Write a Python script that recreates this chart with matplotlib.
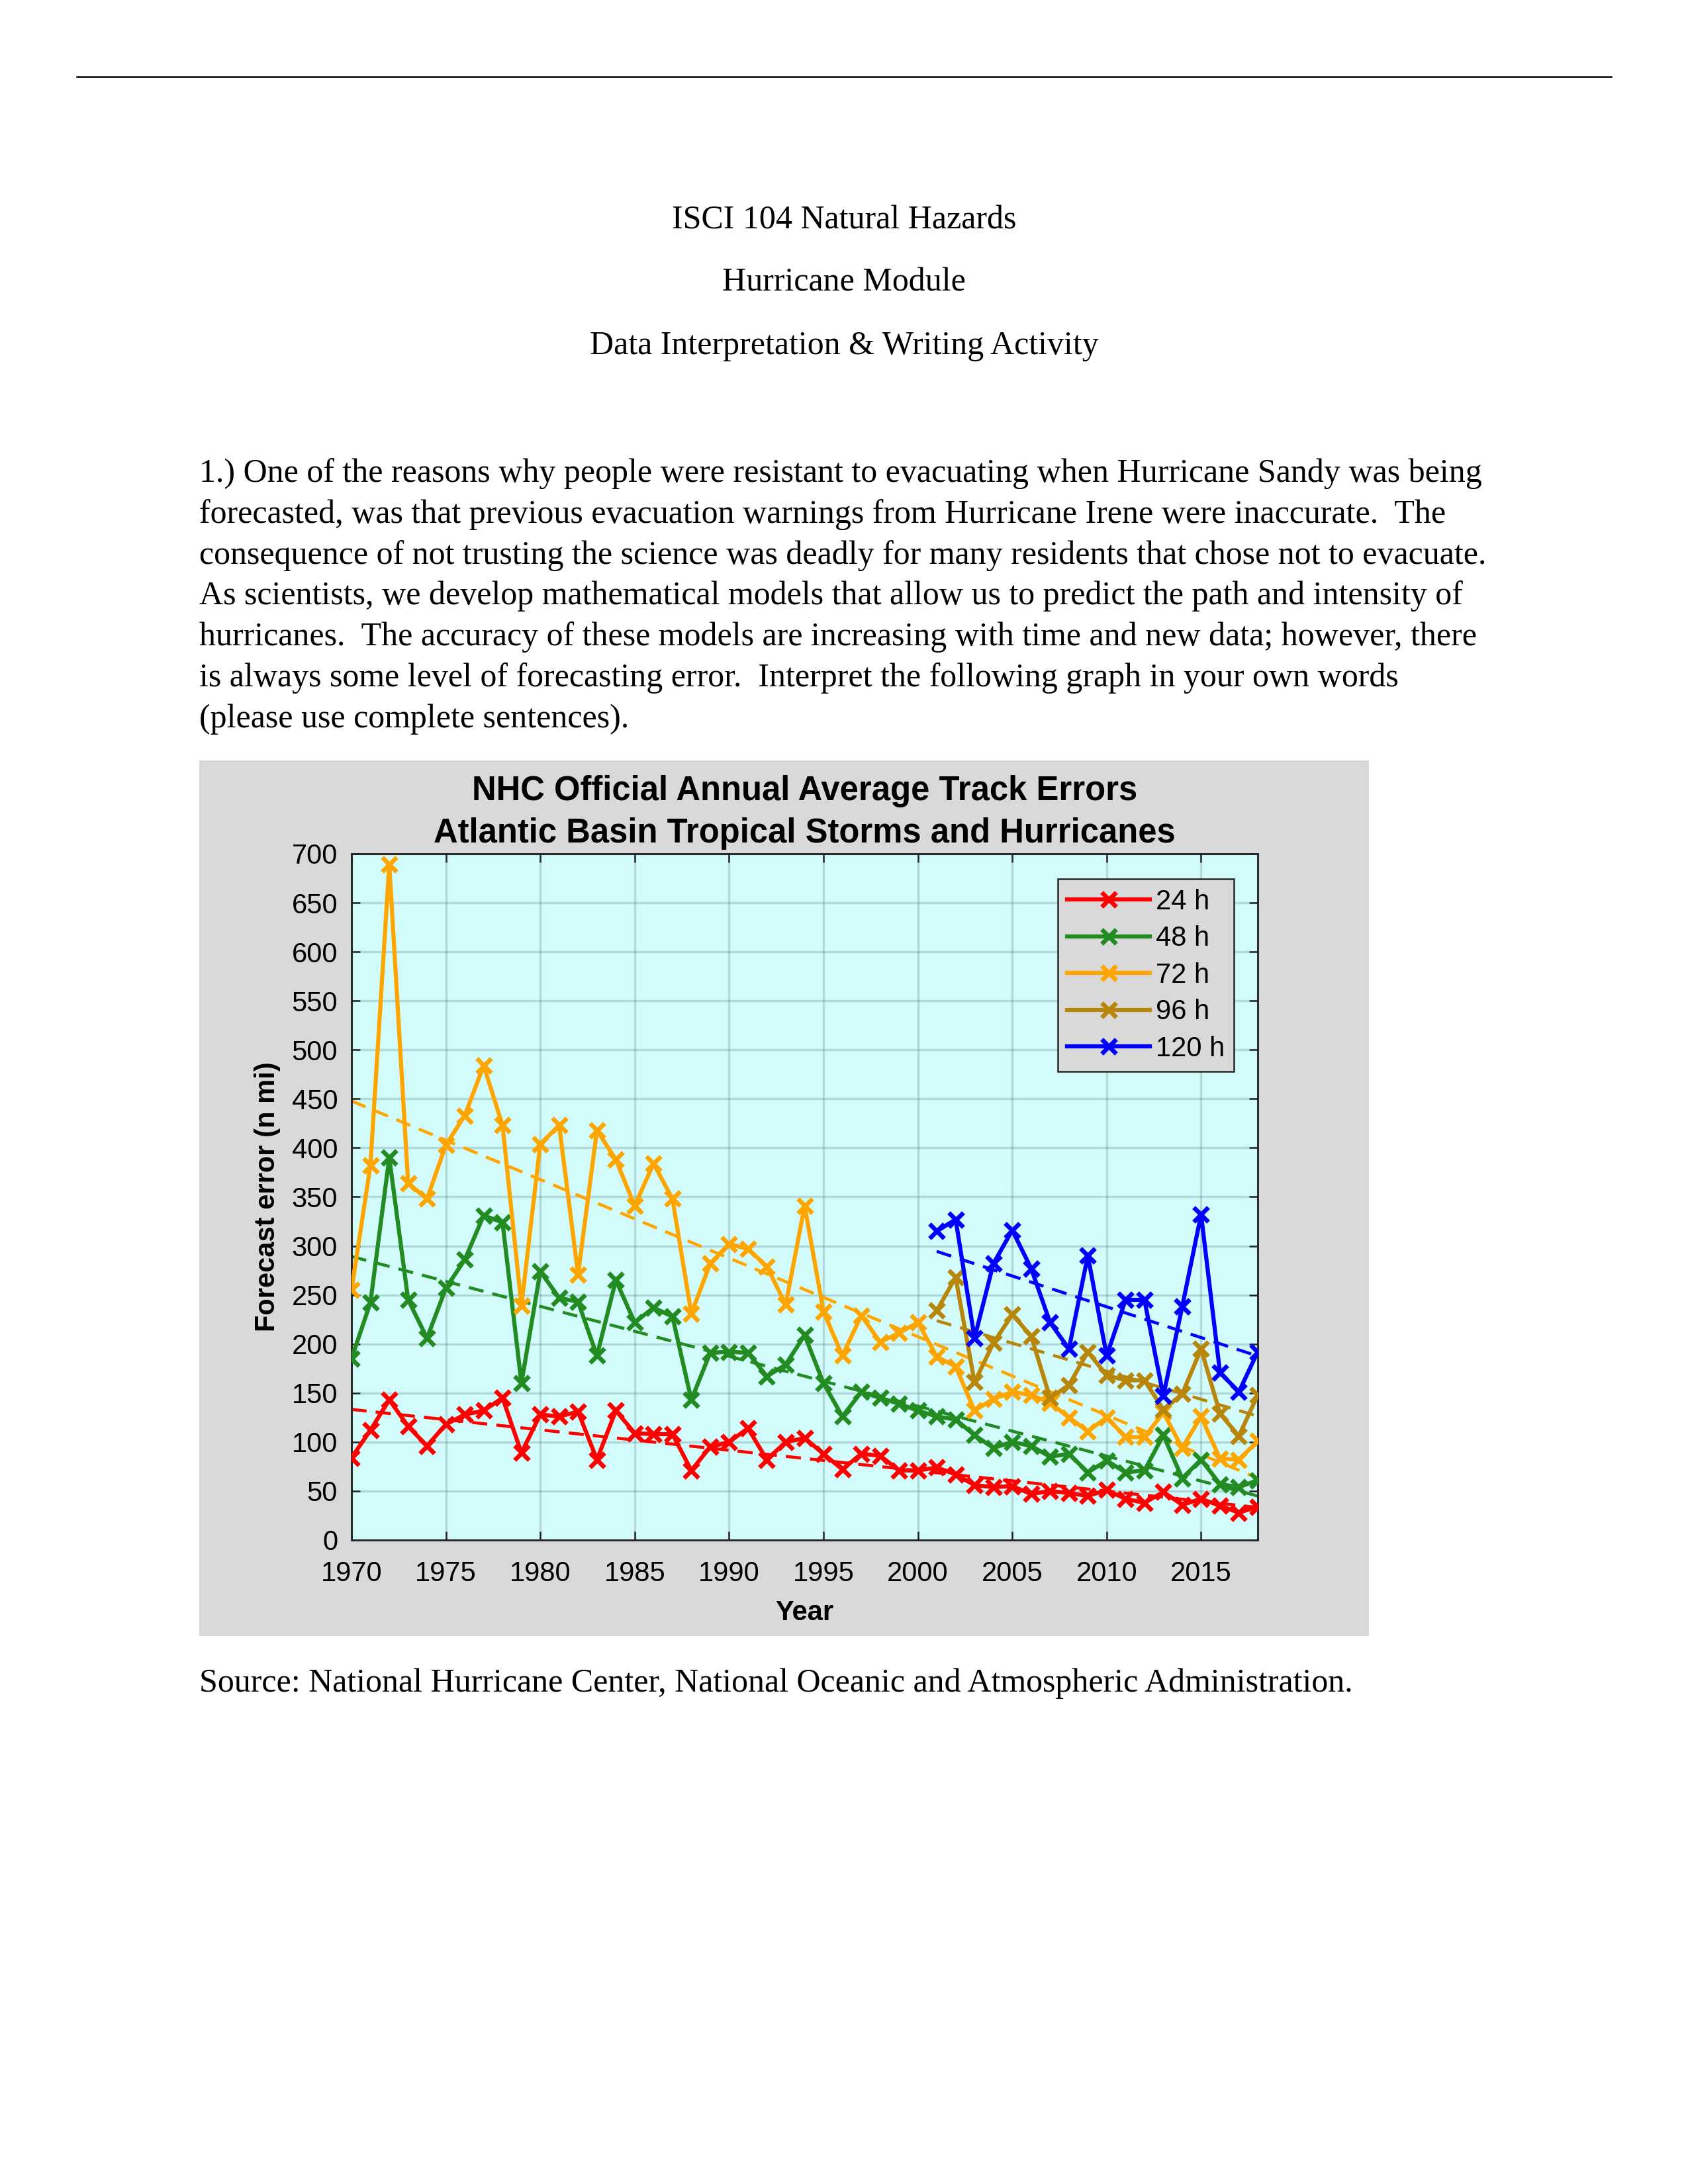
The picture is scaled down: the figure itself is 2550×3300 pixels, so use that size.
import numpy as np
import matplotlib
matplotlib.use("Agg")
import matplotlib.pyplot as plt
from matplotlib.patches import Rectangle
from matplotlib.lines import Line2D

# --- data (n mi) ---
years = list(range(1970, 2019))
years_long = list(range(2001, 2019))

err_24h = [84, 112, 143, 116, 96, 118, 128, 132, 145, 89,
           128, 126, 131, 82, 132, 109, 108, 108, 71, 95,
           100, 114, 82, 100, 104, 88, 72, 88, 86, 71,
           71, 74, 67, 56, 54, 55, 47, 50, 48, 45,
           51, 42, 38, 49, 36, 42, 35, 28, 34]
err_48h = [185, 242, 390, 245, 206, 257, 286, 331, 324, 160,
           274, 247, 243, 188, 265, 222, 237, 228, 143, 191,
           192, 191, 167, 179, 209, 160, 126, 151, 145, 139,
           132, 126, 123, 107, 94, 100, 96, 85, 88, 69,
           81, 69, 71, 107, 63, 82, 57, 54, 61]
err_72h = [255, 382, 689, 364, 348, 403, 433, 484, 423, 239,
           404, 423, 271, 418, 388, 341, 384, 348, 231, 282,
           302, 297, 279, 240, 341, 233, 188, 229, 202, 211,
           222, 187, 177, 132, 144, 151, 148, 140, 125, 111,
           125, 105, 105, 130, 94, 126, 83, 82, 101]
err_96h = [234, 268, 161, 201, 230, 208, 145, 158, 192, 168,
           163, 163, 133, 149, 195, 129, 106, 148]
err_120h = [315, 327, 206, 282, 316, 277, 222, 195, 290, 188,
            245, 245, 147, 238, 332, 171, 151, 192]

series_labels = ["24 h", "48 h", "72 h", "96 h", "120 h"]
series_colors = ["#FF0000", "#228B22", "#FFA500", "#B8860B", "#0000FF"]

x_ticks = [1970, 1975, 1980, 1985, 1990, 1995, 2000, 2005, 2010, 2015]
y_ticks = list(range(0, 701, 50))

header_lines = ["ISCI 104 Natural Hazards",
                "Hurricane Module",
                "Data Interpretation & Writing Activity"]
para_lines = [
    "1.) One of the reasons why people were resistant to evacuating when Hurricane Sandy was being",
    "forecasted, was that previous evacuation warnings from Hurricane Irene were inaccurate.  The",
    "consequence of not trusting the science was deadly for many residents that chose not to evacuate.",
    "As scientists, we develop mathematical models that allow us to predict the path and intensity of",
    "hurricanes.  The accuracy of these models are increasing with time and new data; however, there",
    "is always some level of forecasting error.  Interpret the following graph in your own words",
    "(please use complete sentences).",
]
source_text = "Source: National Hurricane Center, National Oceanic and Atmospheric Administration."

# --- page ---
W, H = 2550, 3300
fig = plt.figure(figsize=(W / 300, H / 300), dpi=300, facecolor="white")

def fx(px):
    return px / W

def fy(py):
    return 1 - py / H

serif = "Liberation Serif"
sans = "Liberation Sans"

fig.add_artist(Line2D([fx(116), fx(2434)], [fy(116), fy(116)], color="black", lw=0.6))

for i, line in enumerate(header_lines):
    fig.text(0.5, fy(345 + 95 * i), line, ha="center", va="baseline",
             family=serif, fontsize=12)

for i, line in enumerate(para_lines):
    fig.text(fx(301), fy(728 + 61.8 * i), line, ha="left", va="baseline",
             family=serif, fontsize=12)

fig.text(fx(301), fy(2556), source_text, ha="left", va="baseline",
         family=serif, fontsize=12)

# grey panel behind the chart (MATLAB figure background)
fig.add_artist(Rectangle((fx(301), fy(2472)), fx(2068) - fx(301), fy(1149) - fy(2472),
                         transform=fig.transFigure, facecolor="#D9D9D9",
                         edgecolor="none", zorder=0))

# --- chart ---
ax = fig.add_axes([fx(531), fy(2327), fx(1900) - fx(531), fy(1290) - fy(2327)])
ax.set_facecolor("#D2FCFC")
ax.set_zorder(2)

all_x = [years, years, years, years_long, years_long]
all_y = [err_24h, err_48h, err_72h, err_96h, err_120h]

handles = []
for xs, ys, col, lab in zip(all_x, all_y, series_colors, series_labels):
    h, = ax.plot(xs, ys, color=col, lw=1.5, marker="x", markersize=5.5,
                 markeredgewidth=1.6, label=lab, zorder=3)
    handles.append(h)
    # linear trend of the series
    k, b = np.polyfit(xs, ys, 1)
    ax.plot([xs[0], xs[-1]], [k * xs[0] + b, k * xs[-1] + b], color=col,
            lw=1.1, linestyle=(0, (5, 3)), zorder=2)

ax.set_xlim(1970, 2018)
ax.set_ylim(0, 700)
ax.set_xticks(x_ticks)
ax.set_yticks(y_ticks)
ax.grid(True, color="#1f3f3f", alpha=0.18, lw=0.8)
ax.set_axisbelow(True)
ax.tick_params(direction="in", length=3.2, width=0.6, top=True, right=True,
               labelsize=10, colors="#262626", pad=5)
ax.tick_params(axis="x", pad=7.5)
for lbl in ax.get_xticklabels() + ax.get_yticklabels():
    lbl.set_family(sans)
    lbl.set_color("black")
for sp in ax.spines.values():
    sp.set_color("#262626")
    sp.set_linewidth(0.7)

ax.set_xlabel("Year", family=sans, fontsize=10, fontweight="bold", labelpad=4.5)
ax.set_ylabel("Forecast error (n mi)", family=sans, fontsize=10,
              fontweight="bold", labelpad=4)
ax.set_title("NHC Official Annual Average Track Errors\n"
             "Atlantic Basin Tropical Storms and Hurricanes",
             family=sans, fontsize=12.2, fontweight="bold", linespacing=1.4, pad=4)

leg = ax.legend(handles=handles, loc="upper right", bbox_to_anchor=(0.974, 0.963),
                prop={"family": sans, "size": 10}, handlelength=3.0,
                handletextpad=0.2, labelspacing=0.37, borderpad=0.35,
                borderaxespad=0, fancybox=False, framealpha=1,
                facecolor="#D9D9D9", edgecolor="#262626")
leg.get_frame().set_linewidth(0.6)

fig.savefig("out.png", dpi=300, facecolor="white")
